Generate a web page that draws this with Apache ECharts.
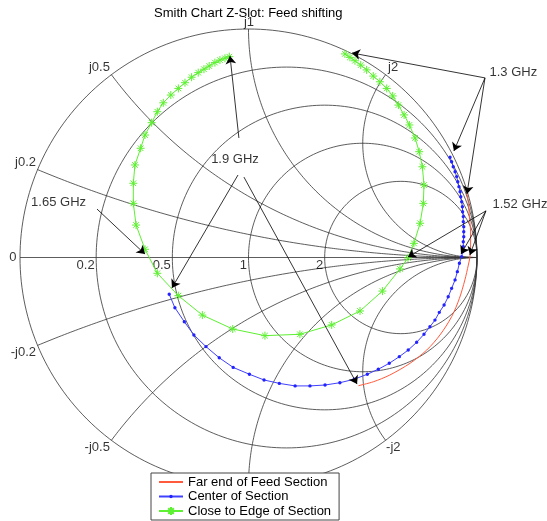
<!DOCTYPE html>
<html>
<head>
<meta charset="utf-8">
<script src="https://cdn.jsdelivr.net/npm/echarts@6/dist/echarts.min.js"></script>
<style>
  html, body { margin: 0; padding: 0; background: #fff; }
  #chart { width: 547px; height: 521px; }
</style>
</head>
<body>
<div id="chart"></div>
<script>
// smith chart grid values
const rTicks = [0.2, 0.5, 1, 2];
const xTicks = [0.2, 0.5, 1, 2];

// reflection coefficient (re / im) of the three curves
const farEndRe = [0.956, 0.963, 0.967, 0.972, 0.972, 0.969, 0.962, 0.947, 0.923, 0.889, 0.838, 0.780, 0.707, 0.619, 0.546, 0.481];
const farEndIm = [0.282, 0.230, 0.173, 0.112, 0.055, 0.002, -0.033, -0.098, -0.179, -0.259, -0.339, -0.405, -0.463, -0.514, -0.544, -0.561];

const centerRe = [0.882, 0.889, 0.896, 0.904, 0.911, 0.916, 0.921, 0.926, 0.929, 0.933, 0.936, 0.937, 0.940, 0.940, 0.942, 0.942, 0.942, 0.940, 0.940, 0.937,
  0.933, 0.923, 0.914, 0.904, 0.889, 0.874, 0.856, 0.835, 0.816, 0.794, 0.768, 0.736, 0.699, 0.660, 0.616, 0.568, 0.520, 0.462, 0.400, 0.335,
  0.269, 0.204, 0.135, 0.068, 0.004, -0.067, -0.128, -0.186, -0.239, -0.281, -0.322, -0.347];
const centerIm = [0.439, 0.419, 0.397, 0.375, 0.354, 0.332, 0.310, 0.288, 0.266, 0.244, 0.222, 0.200, 0.179, 0.157, 0.135, 0.113, 0.091, 0.069, 0.047, 0.025,
  0.004, -0.025, -0.062, -0.098, -0.135, -0.172, -0.208, -0.240, -0.274, -0.303, -0.336, -0.371, -0.405, -0.434, -0.463, -0.489, -0.511, -0.533, -0.548, -0.558,
  -0.562, -0.562, -0.551, -0.536, -0.511, -0.481, -0.439, -0.390, -0.339, -0.281, -0.220, -0.161];

const edgeRe = [0.422, 0.444, 0.466, 0.491, 0.517, 0.546, 0.575, 0.605, 0.631, 0.656, 0.681, 0.704, 0.729, 0.747, 0.761, 0.768, 0.765, 0.751, 0.724, 0.698,
  0.663, 0.586, 0.488, 0.364, 0.225, 0.072, -0.069, -0.202, -0.307, -0.399, -0.453, -0.492, -0.504, -0.504, -0.497, -0.472, -0.453, -0.424, -0.399, -0.373,
  -0.340, -0.307, -0.278, -0.249, -0.220, -0.195, -0.172, -0.147, -0.125, -0.103, -0.084];
const edgeIm = [0.891, 0.876, 0.861, 0.842, 0.821, 0.794, 0.769, 0.740, 0.707, 0.667, 0.624, 0.580, 0.523, 0.463, 0.397, 0.317, 0.237, 0.150, 0.062, -0.002,
  -0.050, -0.147, -0.234, -0.295, -0.336, -0.342, -0.313, -0.252, -0.167, -0.069, 0.036, 0.142, 0.237, 0.325, 0.405, 0.478, 0.536, 0.590, 0.638, 0.677,
  0.711, 0.740, 0.765, 0.789, 0.809, 0.824, 0.838, 0.853, 0.864, 0.872, 0.879];

// annotations: text + where it sits (re, im)
const noteText = ['1.3 GHz', '1.52 GHz', '1.9 GHz', '1.65 GHz'];
const noteRe = [1.057, 1.070, -0.057, -0.829];
const noteIm = [0.807, 0.230, 0.427, 0.239];
const noteAlign = ['left', 'left', 'center', 'center'];
// arrows: [fromRe, fromIm, toRe, toIm]
const arrows = [
  [1.035, 0.786, 0.453, 0.895],
  [1.035, 0.786, 0.899, 0.466],
  [1.035, 0.786, 0.956, 0.278],
  [1.039, 0.204, 0.698, 0.002],
  [1.039, 0.204, 0.930, 0.015],
  [1.039, 0.204, 0.969, 0.011],
  [-0.042, 0.523, -0.081, 0.882],
  [-0.046, 0.361, -0.335, -0.133],
  [-0.020, 0.352, 0.475, -0.554],
  [-0.663, 0.212, -0.453, 0.015]
];

const W = 547, H = 521, CX = 248.5, CY = 257.5, RAD = 228.5;
const FONT = 'Liberation Sans, Arial, sans-serif';
const FS = 13;
const gridColor = '#333';

// z = r + jx  ->  gamma
function gamma(r, x) {
  const d = (r + 1) * (r + 1) + x * x;
  return [(r * r + x * x - 1) / d, 2 * x / d];
}

function gridLine(pts) {
  return {
    type: 'line', data: pts, showSymbol: false, silent: true, z: 1,
    lineStyle: { color: gridColor, width: 0.8 }
  };
}

var series = [];
// outer circle + resistance circles
[0].concat(rTicks).forEach(function (r) {
  const c = r / (1 + r), rad = 1 / (1 + r);
  const pts = [];
  for (let i = 0; i <= 240; i++) {
    const a = i / 240 * 2 * Math.PI;
    pts.push([c + rad * Math.cos(a), rad * Math.sin(a)]);
  }
  series.push(gridLine(pts));
});
// reactance arcs
xTicks.forEach(function (x) {
  [x, -x].forEach(function (xx) {
    const pts = [];
    for (let i = 0; i < 200; i++) {
      pts.push(gamma(Math.tan(i / 200 * Math.PI / 2), xx));
    }
    pts.push([1, 0]);
    series.push(gridLine(pts));
  });
});
// real axis
series.push(gridLine([[-1, 0], [1, 0]]));

// grid labels
var gridLabels = [];
function addLabel(pt, text, align, vAlign, off) {
  gridLabels.push({
    value: pt,
    label: { formatter: text, align: align, verticalAlign: vAlign, offset: off }
  });
}
addLabel(gamma(0, 0), '0', 'right', 'middle', [-3, 0]);
rTicks.forEach(function (r) {
  addLabel(gamma(r, 0), String(r), 'right', 'top', [-1, 2]);
});
xTicks.forEach(function (x) {
  const p = gamma(0, x), n = gamma(0, -x);
  let al = p[0] < -0.01 ? 'right' : (p[0] > 0.01 ? 'left' : 'center');
  let dx = al === 'right' ? -1 : (al === 'left' ? 3 : 1);
  addLabel(p, 'j' + x, al, 'bottom', [dx, 0]);
  if (x !== 1) addLabel(n, '-j' + x, al, 'top', [al === 'left' ? 1 : dx, 1]);
});

series.push({
  type: 'scatter', symbolSize: 1, silent: true, z: 3,
  itemStyle: { color: 'transparent' },
  label: { show: true, position: [0, 0], color: '#000', fontSize: FS, fontFamily: FONT },
  data: gridLabels
});

// small dot inside a padded box so that it stays small in the legend too
const dotPath = 'path://M1.7,0A1.7,1.7,0,1,1,-1.7,0A1.7,1.7,0,1,1,1.7,0ZM-4,-4L-3.99,-4M4,4L3.99,4';
const starPath = 'path://M0,-10L0,10M-10,0L10,0M-7,-7L7,7M-7,7L7,-7';

// curves
series.push({
  name: 'Far end of Feed Section', type: 'line', z: 5,
  data: farEndRe.map((v, i) => [v, farEndIm[i]]),
  symbol: 'none', smooth: 0.3,
  lineStyle: { color: '#ff5a3c', width: 1 },
  itemStyle: { color: '#ff5a3c' }
});
series.push({
  name: 'Center of Section', type: 'line', z: 5,
  data: centerRe.map((v, i) => [v, centerIm[i]]),
  symbol: dotPath, symbolSize: 8, showAllSymbol: true,
  lineStyle: { color: '#4040ff', width: 1 },
  itemStyle: { color: '#2222ff' }
});
series.push({
  name: 'Close to Edge of Section', type: 'line', z: 5,
  data: edgeRe.map((v, i) => [v, edgeIm[i]]),
  symbol: starPath, symbolSize: 8, showAllSymbol: true,
  lineStyle: { color: '#5ef032', width: 1 },
  itemStyle: { color: '#5ef032', borderColor: '#5ef032', borderWidth: 1 }
});

// annotation arrows and texts
series.push({
  type: 'lines', coordinateSystem: 'cartesian2d', z: 6, silent: true,
  symbol: ['none', 'arrow'], symbolSize: 8,
  lineStyle: { color: '#000', width: 0.8, opacity: 1 },
  data: arrows.map(a => ({ coords: [[a[0], a[1]], [a[2], a[3]]] }))
});
series.push({
  type: 'scatter', symbolSize: 1, silent: true, z: 6,
  itemStyle: { color: 'transparent' },
  label: { show: true, position: [0, 0], color: '#000', fontSize: FS, fontFamily: FONT, verticalAlign: 'middle' },
  data: noteText.map((t, i) => ({
    value: [noteRe[i], noteIm[i]],
    label: { formatter: t, align: noteAlign[i] }
  }))
});

var chartOption = {
  animation: false,
  backgroundColor: '#fff',
  title: {
    text: 'Smith Chart Z-Slot: Feed shifting',
    left: 154, top: 7, padding: 0,
    textStyle: { fontSize: FS, fontWeight: 'normal', color: '#000', fontFamily: FONT }
  },
  legend: {
    data: [
      { name: 'Far end of Feed Section', itemStyle: { opacity: 0 } },
      'Center of Section',
      'Close to Edge of Section'
    ],
    orient: 'vertical', left: 151, top: 473,
    padding: [2, 8, 2, 7], itemGap: 0.5, itemWidth: 24, itemHeight: 10,
    backgroundColor: '#fff', borderColor: '#444', borderWidth: 1,
    textStyle: { fontSize: FS, lineHeight: 14, color: '#000', fontFamily: FONT }
  },
  grid: { left: 0, right: 0, top: 0, bottom: 0 },
  xAxis: { type: 'value', min: -CX / RAD, max: (W - CX) / RAD, show: false },
  yAxis: { type: 'value', min: -(H - CY) / RAD, max: CY / RAD, show: false },
  series: series
};

var myChart = echarts.init(document.getElementById('chart'));
myChart.setOption(chartOption);
</script>
</body>
</html>
